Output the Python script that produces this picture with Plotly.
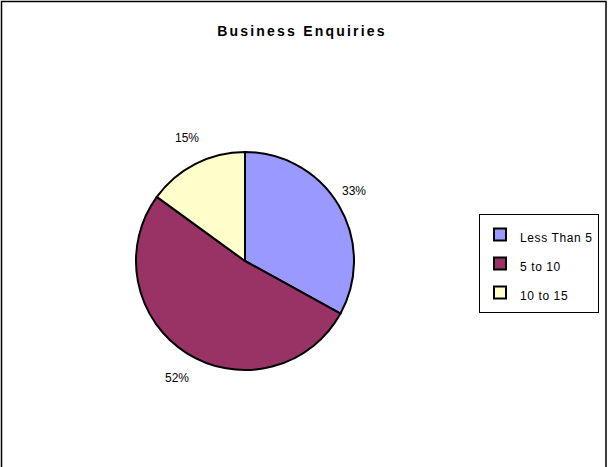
import math
import plotly.graph_objects as go

# Business enquiries by size band (percent of total)
categories = ["Less Than 5", "5 to 10", "10 to 15"]
shares = [33, 52, 15]
slice_colors = ["#9999FF", "#993366", "#FFFFCC"]

W, H = 608, 467
FONT = "Liberation Sans, Arial, sans-serif"

# pie centred at (245, 261) px
cx, cy, r = 245, 261, 109
dom_x = [(cx - r) / W, (cx + r) / W]
dom_y = [(H - (cy + r)) / H, (H - (cy - r)) / H]


def spaced(text, size, spacing):
    return f'<span style="font-size:{size}px;letter-spacing:{spacing}px">{text}</span>'


fig = go.Figure(
    go.Pie(
        labels=[spaced(c, 12, 0.6) for c in categories],
        values=shares,
        marker=dict(colors=slice_colors, line=dict(color="black", width=2)),
        sort=False,
        direction="clockwise",
        rotation=0,
        textposition="none",
        domain=dict(x=dom_x, y=dom_y),
        hoverinfo="label+percent",
    )
)

# percentage labels placed outside each slice at its mid angle
total = sum(shares)
start = 0.0
annotations = []
for v in shares:
    frac = v / total
    mid = 2 * math.pi * (start + frac / 2)
    start += frac
    lx = cx + 127 * math.sin(mid)
    ly = cy - 138 * math.cos(mid)
    annotations.append(
        dict(
            text=f"{round(100 * frac)}%",
            x=lx / W,
            y=1 - ly / H,
            xref="paper",
            yref="paper",
            xanchor="center",
            yanchor="middle",
            showarrow=False,
            font=dict(family=FONT, size=12, color="black"),
        )
    )

fig.update_layout(
    width=W,
    height=H,
    margin=dict(l=0, r=0, t=0, b=0),
    paper_bgcolor="white",
    plot_bgcolor="white",
    font=dict(family=FONT, color="black"),
    title=dict(
        text="<b>" + spaced("Business Enquiries", 14, 2.2) + "</b>",
        x=302 / W,
        xanchor="center",
        y=1 - 31 / H,
        yanchor="middle",
        font=dict(family=FONT, size=14, color="black"),
    ),
    legend=dict(
        x=599 / W,
        xanchor="right",
        y=1 - 214 / H,
        yanchor="top",
        bordercolor="black",
        borderwidth=1,
        bgcolor="white",
        font=dict(family=FONT, size=20, color="black"),
    ),
    annotations=annotations,
    shapes=[
        dict(
            type="rect",
            xref="paper",
            yref="paper",
            x0=1.5 / W,
            x1=606 / W,
            y0=-0.05,
            y1=1 - 1.5 / H,
            line=dict(color="black", width=1.5),
            fillcolor="rgba(0,0,0,0)",
            layer="above",
        )
    ],
)

fig.write_html("out.html")
